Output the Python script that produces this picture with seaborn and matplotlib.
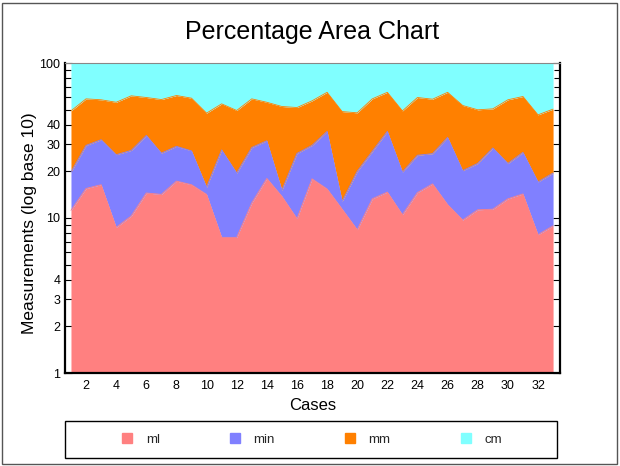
import numpy as np
import pandas as pd
import matplotlib
matplotlib.use("Agg")
import matplotlib.pyplot as plt
from matplotlib.ticker import FixedLocator, NullFormatter
from matplotlib.patches import Rectangle
from matplotlib.lines import Line2D
import seaborn as sns

cases = list(range(1, 34))
ml = [11.2, 15.5, 16.4, 8.7, 10.3, 14.5, 14.2, 17.3, 16.4, 14.2, 7.5, 7.5, 12.5, 18.0, 13.8, 9.9,
      17.9, 15.4, 11.4, 8.4, 13.3, 14.7, 10.5, 14.6, 16.6, 12.2, 9.7, 11.3, 11.4, 13.3, 14.3, 7.8, 8.9]
min_ = [8.6, 13.9, 15.6, 16.9, 17.0, 19.6, 12.0, 11.7, 10.7, 1.6, 20.0, 12.0, 16.0, 13.5, 1.3, 16.2,
        11.5, 20.8, 1.4, 11.6, 13.6, 21.5, 9.3, 10.8, 9.4, 20.9, 10.5, 11.2, 16.9, 9.2, 12.2, 9.3, 10.6]
mm = [29.3, 29.3, 25.9, 30.2, 34.1, 25.8, 31.9, 32.7, 32.2, 31.7, 27.0, 29.9, 30.2, 24.3, 37.3, 25.5,
      27.6, 28.5, 35.8, 27.7, 31.8, 28.5, 29.3, 34.5, 32.4, 31.6, 33.0, 27.4, 22.3, 35.4, 34.3, 29.2, 30.9]
cm = [50.9, 41.3, 42.1, 44.2, 38.6, 40.1, 41.9, 38.3, 40.7, 52.5, 45.5, 50.6, 41.3, 44.2, 47.6, 48.4,
      43.0, 35.3, 51.4, 52.3, 41.3, 35.3, 50.9, 40.1, 41.6, 35.3, 46.8, 50.1, 49.4, 42.1, 39.2, 53.7, 49.6]
series_names = ["ml", "min", "mm", "cm"]
colors = ["#FF8080", "#8080FF", "#FF8000", "#80FFFF"]
y_major = [1, 2, 3, 4, 10, 20, 30, 40, 100]
y_minor = [5, 6, 7, 8, 9, 50, 60, 70, 80, 90]
x_ticks = list(range(2, 33, 2))

sns.set_theme(style="white")
plt.rcParams["font.family"] = ["Liberation Sans", "DejaVu Sans"]

df = pd.DataFrame({"case": cases, "ml": ml, "min": min_, "mm": mm, "cm": cm})
vals = df[series_names].to_numpy()
pct = vals / vals.sum(axis=1, keepdims=True) * 100
cum = np.cumsum(pct, axis=1)

fig = plt.figure(figsize=(6.2, 4.66), dpi=100)
ax = fig.add_axes([64.5 / 620, 1 - 373 / 466, (560 - 64.5) / 620, (373 - 63) / 466])

lower = np.ones(len(cases))
for i, name in enumerate(series_names):
    upper = cum[:, i]
    ax.fill_between(df["case"], lower, upper, color=colors[i], linewidth=0, zorder=2)
    sns.lineplot(x=df["case"], y=upper, ax=ax, color=colors[i], linewidth=0.6, zorder=2.1)
    lower = upper

ax.set_yscale("log")
ax.set_ylim(1, 100)
ax.set_xlim(0.57, 33.46)
ax.yaxis.set_major_locator(FixedLocator(y_major))
ax.yaxis.set_minor_locator(FixedLocator(y_minor))
ax.yaxis.set_minor_formatter(NullFormatter())
ax.set_yticklabels([str(v) for v in y_major])
ax.set_xticks(x_ticks)
ax.set_xticklabels([str(v) for v in x_ticks])
ax.tick_params(axis="y", which="both", direction="in", left=True, right=True,
               labelsize=9, colors="black", pad=3)
ax.tick_params(axis="y", which="major", length=5, width=0.8)
ax.tick_params(axis="y", which="minor", length=4, width=0.8)
ax.tick_params(axis="x", length=0, labelsize=9, pad=5, colors="black")
for sp in ["left", "bottom", "right"]:
    ax.spines[sp].set_visible(True)
    ax.spines[sp].set_color("black")
    ax.spines[sp].set_linewidth(1.6)
ax.spines["top"].set_visible(True)
ax.spines["top"].set_color("#888888")
ax.spines["top"].set_linewidth(0.8)

ax.set_xlabel("Cases", fontsize=12, labelpad=4, color="black")
ax.set_ylabel("Measurements (log base 10)", fontsize=12.5, color="black")
ax.yaxis.set_label_coords(-0.056, 0.483)
fig.text(0.504, 1 - 38.5 / 466, "Percentage Area Chart", ha="center", va="baseline",
         fontsize=18, color="black")

# legend box
fig.patches.append(Rectangle((65 / 620, 1 - 458 / 466), (557 - 65) / 620, 37 / 466,
                             transform=fig.transFigure, fill=False, edgecolor="black",
                             linewidth=1.0))
handles = [Line2D([], [], marker="s", linestyle="none", markersize=7,
                  markerfacecolor=c, markeredgecolor=c) for c in colors]
fig.legend(handles, series_names, loc="center", bbox_to_anchor=(0.502, 1 - 439.5 / 466),
           ncol=4, frameon=False, fontsize=9.5, columnspacing=5.2, handletextpad=0.9,
           handlelength=1.0)

# figure border
fig.patches.append(Rectangle((2 / 620, 2 / 466), 615 / 620, 461 / 466,
                             transform=fig.transFigure, fill=False, edgecolor="#555555",
                             linewidth=1.0))

fig.savefig("out.png", dpi=100)
